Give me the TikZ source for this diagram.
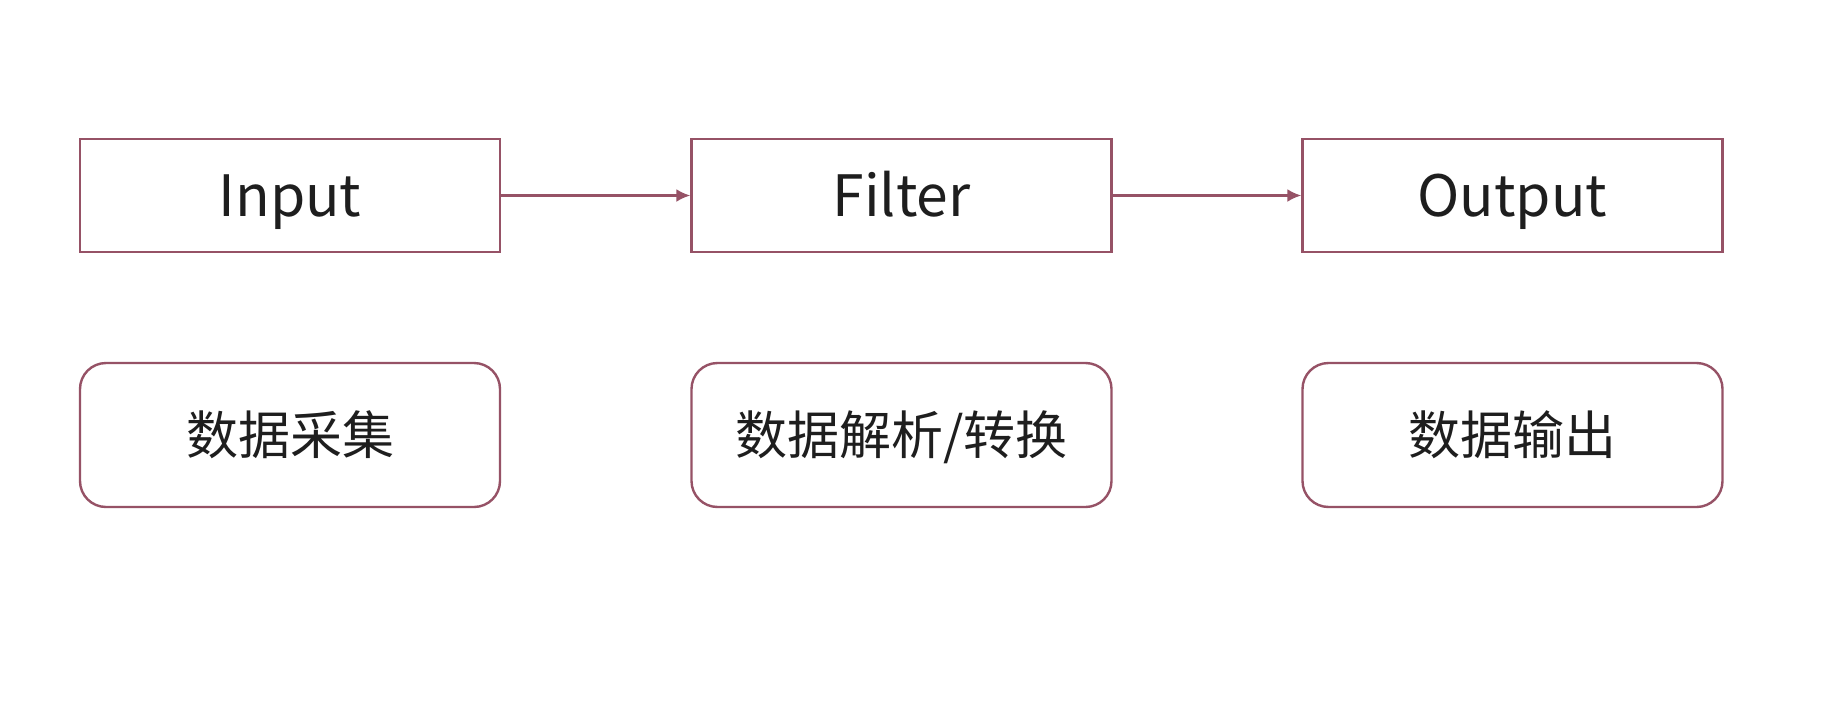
\documentclass[tikz,border=0pt]{standalone}
\usepackage{fontspec}
\setmainfont{Noto Sans CJK SC}
\usetikzlibrary{arrows.meta}
\definecolor{boxc}{RGB}{150,82,102}
\definecolor{txtc}{RGB}{30,30,30}
\tikzset{
  sqbox/.style={draw=boxc, line width=2.4pt, minimum width=420pt, minimum height=113pt,
    inner sep=0pt, text=txtc, font=\fontsize{57}{60}\selectfont,
    text height=41.6pt, text depth=0pt},
  rbox/.style={draw=boxc, line width=2.4pt, rounded corners=26pt, minimum width=420pt,
    minimum height=144pt, inner sep=0pt, text=txtc, font=\fontsize{52}{56}\selectfont,
    text height=39.5pt, text depth=0pt},
  conn/.style={draw=boxc, line width=2.4pt, -{Latex[length=14pt,width=13pt]}}
}
\begin{document}
\begin{tikzpicture}[x=1pt,y=-1pt]
  \fill[white] (0,0) rectangle (1846,704);
  \useasboundingbox (0,0) rectangle (1846,704);
  \node[sqbox] (in)  at (290,195.5)  {Input};
  \node[sqbox] (fil) at (901.5,195.5) {Filter};
  \node[sqbox] (out) at (1512.5,195.5) {Output};
  \node[rbox] (c1) at (290,435)  {数据采集};
  \node[rbox] (c2) at (901.5,435) {数据解析/转换};
  \node[rbox] (c3) at (1512.5,435) {数据输出};
  \draw[conn] (in) -- (fil);
  \draw[conn] (fil) -- (out);
\end{tikzpicture}
\end{document}
